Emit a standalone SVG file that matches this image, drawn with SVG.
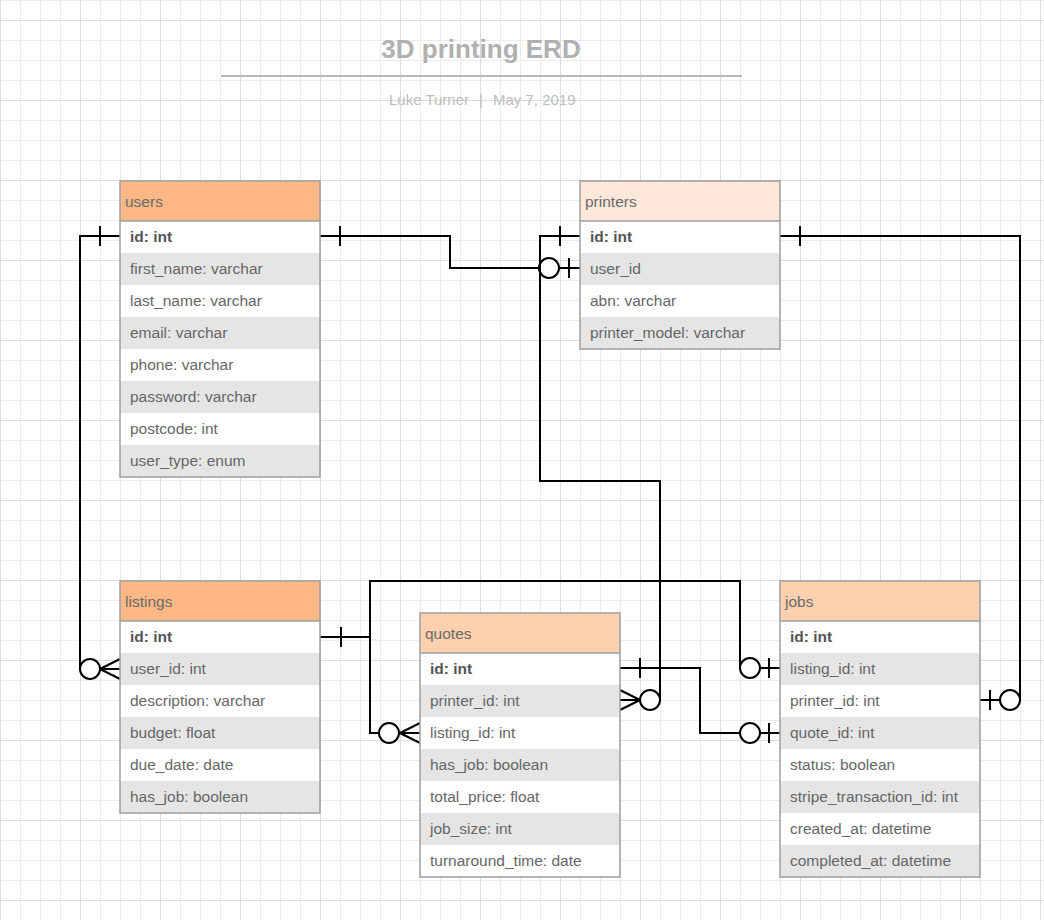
<svg xmlns="http://www.w3.org/2000/svg" width="1044" height="920" viewBox="0 0 1044 920">
<defs>
<pattern id="grid" patternUnits="userSpaceOnUse" x="0" y="20" width="80" height="80">
<rect x="0" y="0" width="80" height="80" fill="#ffffff"/>
<rect x="20" y="0" width="1" height="80" fill="#ececec"/>
<rect x="40" y="0" width="1" height="80" fill="#ececec"/>
<rect x="60" y="0" width="1" height="80" fill="#ececec"/>
<rect x="0" y="20" width="80" height="1" fill="#ececec"/>
<rect x="0" y="40" width="80" height="1" fill="#ececec"/>
<rect x="0" y="60" width="80" height="1" fill="#ececec"/>
<rect x="0" y="0" width="1" height="80" fill="#dcdcdc"/>
<rect x="0" y="0" width="80" height="1" fill="#dcdcdc"/>
</pattern>
</defs>
<style>
text{font-family:"Liberation Sans",Arial,sans-serif;}
.hdr{font-size:15.5px;fill:#6a6a6a;}
.row{font-size:15.5px;fill:#666666;}
.pk{font-size:15.5px;fill:#555555;font-weight:bold;}
.frame{fill:none;stroke:#9e9e9e;stroke-width:1.5;}
.sep{stroke:#9e9e9e;stroke-width:1.5;}
.shade{fill:#e5e5e5;}
.white{fill:#ffffff;}
.c1{fill:#fdb885;}
.c2{fill:#fee8da;}
.c3{fill:#fed0ad;}
.ln{fill:none;stroke:#000000;stroke-width:2;}
.ring{fill:#ffffff;stroke:#000000;stroke-width:2;}
</style>
<rect x="0" y="0" width="1044" height="920" fill="url(#grid)"/>

<g id="title">
<text x="481" y="58" text-anchor="middle" font-size="26" font-weight="bold" fill="#b0b0b0">3D printing ERD</text>
<rect x="221" y="75" width="521" height="2" fill="#b8b8b8"/>
<text x="389" y="105" font-size="15" fill="#bdbdbd">Luke Turner</text>
<text x="481" y="105" font-size="15" fill="#bdbdbd" text-anchor="middle">|</text>
<text x="493" y="105" font-size="15" fill="#bdbdbd">May 7, 2019</text>
</g>

<g id="connectors">
<!-- users.id -> printers.user_id -->
<path class="ln" d="M320,236 H450 V268 H580"/>
<path class="ln" d="M340,226 V246 M569,258 V278"/>
<circle class="ring" cx="549" cy="268" r="10"/>
<!-- users.id -> listings.user_id -->
<path class="ln" d="M120,236 H80 V669 H120"/>
<path class="ln" d="M100,226 V246 M100,669 L120,659 M100,669 L120,679"/>
<circle class="ring" cx="90" cy="669" r="10"/>
<!-- printers.id -> quotes.printer_id -->
<path class="ln" d="M580,236 H540 V481 H660 V700 H620"/>
<path class="ln" d="M560,226 V246 M640,700 L620,690 M640,700 L620,710"/>
<circle class="ring" cx="650" cy="700" r="10"/>
<!-- printers.id -> jobs.printer_id -->
<path class="ln" d="M780,236 H1020 V700 H980"/>
<path class="ln" d="M800,226 V246 M990,690 V710"/>
<circle class="ring" cx="1010" cy="700" r="10"/>
<!-- listings.id -> quotes.listing_id / jobs.listing_id -->
<path class="ln" d="M320,637 H370 V581 H740 V668 H780"/>
<path class="ln" d="M370,637 V733 H420"/>
<path class="ln" d="M341,627 V647 M400,733 L420,723 M400,733 L420,743 M769,658 V678"/>
<circle class="ring" cx="389" cy="733" r="10"/>
<circle class="ring" cx="750" cy="668" r="10"/>
<!-- quotes.id -> jobs.quote_id -->
<path class="ln" d="M620,668 H700 V733 H780"/>
<path class="ln" d="M640,658 V678 M769,723 V743"/>
<circle class="ring" cx="750" cy="733" r="10"/>
</g>

<g id="users">
<rect class="c1" x="120" y="181" width="200" height="40"/>
<rect class="white" x="120" y="221" width="200" height="256"/>
<rect class="shade" x="120" y="253" width="200" height="32"/>
<rect class="shade" x="120" y="317" width="200" height="32"/>
<rect class="shade" x="120" y="381" width="200" height="32"/>
<rect class="shade" x="120" y="445" width="200" height="32"/>
<line class="sep" x1="120" y1="221" x2="320" y2="221"/>
<rect class="frame" x="120" y="181" width="200" height="296"/>
<text class="hdr" x="125" y="206.5">users</text>
<text class="pk" x="130" y="241.5">id: int</text>
<text class="row" x="130" y="273.5">first_name: varchar</text>
<text class="row" x="130" y="305.5">last_name: varchar</text>
<text class="row" x="130" y="337.5">email: varchar</text>
<text class="row" x="130" y="369.5">phone: varchar</text>
<text class="row" x="130" y="401.5">password: varchar</text>
<text class="row" x="130" y="433.5">postcode: int</text>
<text class="row" x="130" y="465.5">user_type: enum</text>
</g>

<g id="printers">
<rect class="c2" x="580" y="181" width="200" height="40"/>
<rect class="white" x="580" y="221" width="200" height="128"/>
<rect class="shade" x="580" y="253" width="200" height="32"/>
<rect class="shade" x="580" y="317" width="200" height="32"/>
<line class="sep" x1="580" y1="221" x2="780" y2="221"/>
<rect class="frame" x="580" y="181" width="200" height="168"/>
<text class="hdr" x="585" y="206.5">printers</text>
<text class="pk" x="590" y="241.5">id: int</text>
<text class="row" x="590" y="273.5">user_id</text>
<text class="row" x="590" y="305.5">abn: varchar</text>
<text class="row" x="590" y="337.5">printer_model: varchar</text>
</g>

<g id="listings">
<rect class="c1" x="120" y="581" width="200" height="40"/>
<rect class="white" x="120" y="621" width="200" height="192"/>
<rect class="shade" x="120" y="653" width="200" height="32"/>
<rect class="shade" x="120" y="717" width="200" height="32"/>
<rect class="shade" x="120" y="781" width="200" height="32"/>
<line class="sep" x1="120" y1="621" x2="320" y2="621"/>
<rect class="frame" x="120" y="581" width="200" height="232"/>
<text class="hdr" x="125" y="606.5">listings</text>
<text class="pk" x="130" y="641.5">id: int</text>
<text class="row" x="130" y="673.5">user_id: int</text>
<text class="row" x="130" y="705.5">description: varchar</text>
<text class="row" x="130" y="737.5">budget: float</text>
<text class="row" x="130" y="769.5">due_date: date</text>
<text class="row" x="130" y="801.5">has_job: boolean</text>
</g>

<g id="quotes">
<rect class="c3" x="420" y="613" width="200" height="40"/>
<rect class="white" x="420" y="653" width="200" height="224"/>
<rect class="shade" x="420" y="685" width="200" height="32"/>
<rect class="shade" x="420" y="749" width="200" height="32"/>
<rect class="shade" x="420" y="813" width="200" height="32"/>
<line class="sep" x1="420" y1="653" x2="620" y2="653"/>
<rect class="frame" x="420" y="613" width="200" height="264"/>
<text class="hdr" x="425" y="638.5">quotes</text>
<text class="pk" x="430" y="673.5">id: int</text>
<text class="row" x="430" y="705.5">printer_id: int</text>
<text class="row" x="430" y="737.5">listing_id: int</text>
<text class="row" x="430" y="769.5">has_job: boolean</text>
<text class="row" x="430" y="801.5">total_price: float</text>
<text class="row" x="430" y="833.5">job_size: int</text>
<text class="row" x="430" y="865.5">turnaround_time: date</text>
</g>

<g id="jobs">
<rect class="c3" x="780" y="581" width="200" height="40"/>
<rect class="white" x="780" y="621" width="200" height="256"/>
<rect class="shade" x="780" y="653" width="200" height="32"/>
<rect class="shade" x="780" y="717" width="200" height="32"/>
<rect class="shade" x="780" y="781" width="200" height="32"/>
<rect class="shade" x="780" y="845" width="200" height="32"/>
<line class="sep" x1="780" y1="621" x2="980" y2="621"/>
<rect class="frame" x="780" y="581" width="200" height="296"/>
<text class="hdr" x="785" y="606.5">jobs</text>
<text class="pk" x="790" y="641.5">id: int</text>
<text class="row" x="790" y="673.5">listing_id: int</text>
<text class="row" x="790" y="705.5">printer_id: int</text>
<text class="row" x="790" y="737.5">quote_id: int</text>
<text class="row" x="790" y="769.5">status: boolean</text>
<text class="row" x="790" y="801.5">stripe_transaction_id: int</text>
<text class="row" x="790" y="833.5">created_at: datetime</text>
<text class="row" x="790" y="865.5">completed_at: datetime</text>
</g>
</svg>
